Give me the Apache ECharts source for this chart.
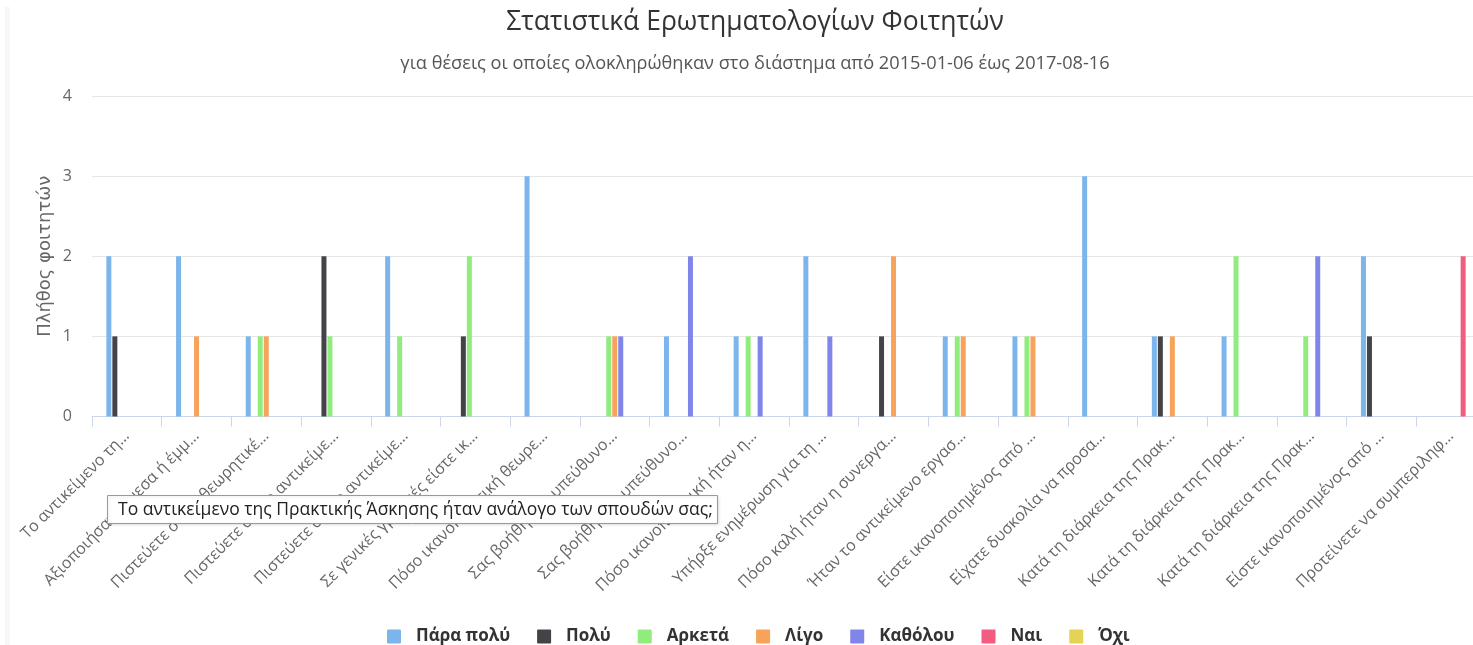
<!DOCTYPE html>
<html>
<head>
<meta charset="utf-8">
<script src="https://cdn.jsdelivr.net/npm/echarts@6/dist/echarts.min.js"></script>
<style>
html,body{margin:0;padding:0;background:#fff;overflow:hidden;width:1473px;height:645px;}
#chart{width:1487px;height:645px;}
</style>
</head>
<body>
<div id="chart"></div>
<script>
const titleText = 'Στατιστικά Ερωτηματολογίων Φοιτητών';
const subtitleText = 'για θέσεις οι οποίες ολοκληρώθηκαν στο διάστημα από 2015-01-06 έως 2017-08-16';
const yAxisName = 'Πλήθος φοιτητών';
const tooltipText = 'Το αντικείμενο της Πρακτικής Άσκησης ήταν ανάλογο των σπουδών σας;';

const categories = [
  'Το αντικείμενο τη…',
  'Αξιοποιήσατε άμεσα ή έμμ…',
  'Πιστεύετε ότι οι θεωρητικέ…',
  'Πιστεύετε ότι το αντικείμε…',
  'Πιστεύετε ότι το αντικείμε…',
  'Σε γενικές γραμμές είστε ικ…',
  'Πόσο ικανοποιητική θεωρε…',
  'Σας βοήθησε ο υπεύθυνο…',
  'Σας βοήθησε ο υπεύθυνο…',
  'Πόσο ικανοποιητική ήταν η…',
  'Υπήρξε ενημέρωση για τη …',
  'Πόσο καλή ήταν η συνεργα…',
  'Ήταν το αντικείμενο εργασ…',
  'Είστε ικανοποιημένος από …',
  'Είχατε δυσκολία να προσα…',
  'Κατά τη διάρκεια της Πρακ…',
  'Κατά τη διάρκεια της Πρακ…',
  'Κατά τη διάρκεια της Πρακ…',
  'Είστε ικανοποιημένος από …',
  'Προτείνετε να συμπεριληφ…'
];

const seriesNames = ['Πάρα πολύ', 'Πολύ', 'Αρκετά', 'Λίγο', 'Καθόλου', 'Ναι', 'Όχι'];
const seriesColors = ['#7cb5ec', '#434348', '#90ed7d', '#f7a35c', '#8085e9', '#f15c80', '#e4d354'];

const paraPoly = [2,2,1,0,2,0,3,0,1,1,2,0,1,1,3,1,1,0,2,0];
const poly     = [1,0,0,2,0,1,0,0,0,0,0,1,0,0,0,1,0,0,1,0];
const arketa   = [0,0,1,1,1,2,0,1,0,1,0,0,1,1,0,0,2,1,0,0];
const ligo     = [0,1,1,0,0,0,0,1,0,0,0,2,1,1,0,1,0,0,0,0];
const katholou = [0,0,0,0,0,0,0,1,2,1,1,0,0,0,0,0,0,2,0,0];
const nai      = [0,0,0,0,0,0,0,0,0,0,0,0,0,0,0,0,0,0,0,2];
const oxi      = [0,0,0,0,0,0,0,0,0,0,0,0,0,0,0,0,0,0,0,0];

const yTicks = [0, 1, 2, 3, 4];

const seriesData = [paraPoly, poly, arketa, ligo, katholou, nai, oxi];

const chart = echarts.init(document.getElementById('chart'));
const FONT = '"Open Sans", "Noto Sans", sans-serif';

chart.setOption({
  animation: false,
  textStyle: { fontFamily: FONT },
  title: [
    {
      text: titleText,
      left: 755, top: 9, textAlign: 'center', padding: 0,
      textStyle: { fontSize: 26.5, fontWeight: 'normal', color: '#333333', fontFamily: FONT }
    },
    {
      text: subtitleText,
      left: 755, top: 55, textAlign: 'center', padding: 0,
      textStyle: { fontSize: 18.2, fontWeight: 'normal', color: '#555555', fontFamily: FONT }
    }
  ],
  legend: {
    data: seriesNames.map(n => ({ name: n, icon: 'path://M1,0 H13 A1,1 0 0 1 14,1 V13 A1,1 0 0 1 13,14 H1 A1,1 0 0 1 0,13 V1 A1,1 0 0 1 1,0 Z' })),
    left: 382, top: 623,
    padding: 5,
    itemWidth: 14, itemHeight: 14,
    itemGap: 27,
    textStyle: { fontSize: 17, fontWeight: 'bold', color: '#333333', fontFamily: FONT, padding: [0, 0, 0, 10] }
  },
  grid: { left: 92, right: 1, top: 96, bottom: 228.5, containLabel: false },
  xAxis: {
    type: 'category',
    data: categories,
    axisLine: { lineStyle: { color: '#ccd6eb', width: 1 } },
    axisTick: { show: true, length: 10, lineStyle: { color: '#ccd6eb' } },
    axisLabel: {
      interval: 0, rotate: 45, margin: 17,
      color: '#666666', fontSize: 16, fontFamily: FONT
    },
    splitLine: { show: false }
  },
  yAxis: {
    type: 'value',
    min: yTicks[0], max: yTicks[yTicks.length - 1], interval: 1,
    name: yAxisName,
    nameLocation: 'middle',
    nameGap: 38,
    nameMoveOverlap: false,
    nameTextStyle: { color: '#666666', fontSize: 18, fontFamily: '"DejaVu Sans", sans-serif' },
    axisLine: { show: false },
    axisTick: { show: false },
    axisLabel: { color: '#666666', fontSize: 16, margin: 20, fontFamily: FONT },
    splitLine: { lineStyle: { color: '#e6e6e6', width: 1 } }
  },
  series: seriesNames.map((name, i) => ({
    name: name,
    type: 'bar',
    data: seriesData[i],
    barWidth: 5,
    barGap: '20%',
    itemStyle: { color: seriesColors[i] }
  })),
  graphic: [
    {
      type: 'rect', silent: true, z: -1,
      shape: { x: 5, y: 7, width: 5, height: 640 },
      style: { fill: '#f6f7fa' }
    },
    {
      type: 'rect', zlevel: 5, z: 100,
      shape: { x: 107.5, y: 495.5, width: 610, height: 28 },
      style: { fill: '#ffffff', stroke: '#9a9a9a', lineWidth: 1,
               shadowBlur: 3, shadowColor: 'rgba(0,0,0,0.12)', shadowOffsetX: 1, shadowOffsetY: 1 }
    },
    {
      type: 'text', zlevel: 5, z: 101,
      style: { x: 118, y: 510, text: tooltipText, verticalAlign: 'middle', align: 'left',
               fontSize: 17.5, fill: '#222222', fontFamily: FONT }
    }
  ]
});
</script>
</body>
</html>
